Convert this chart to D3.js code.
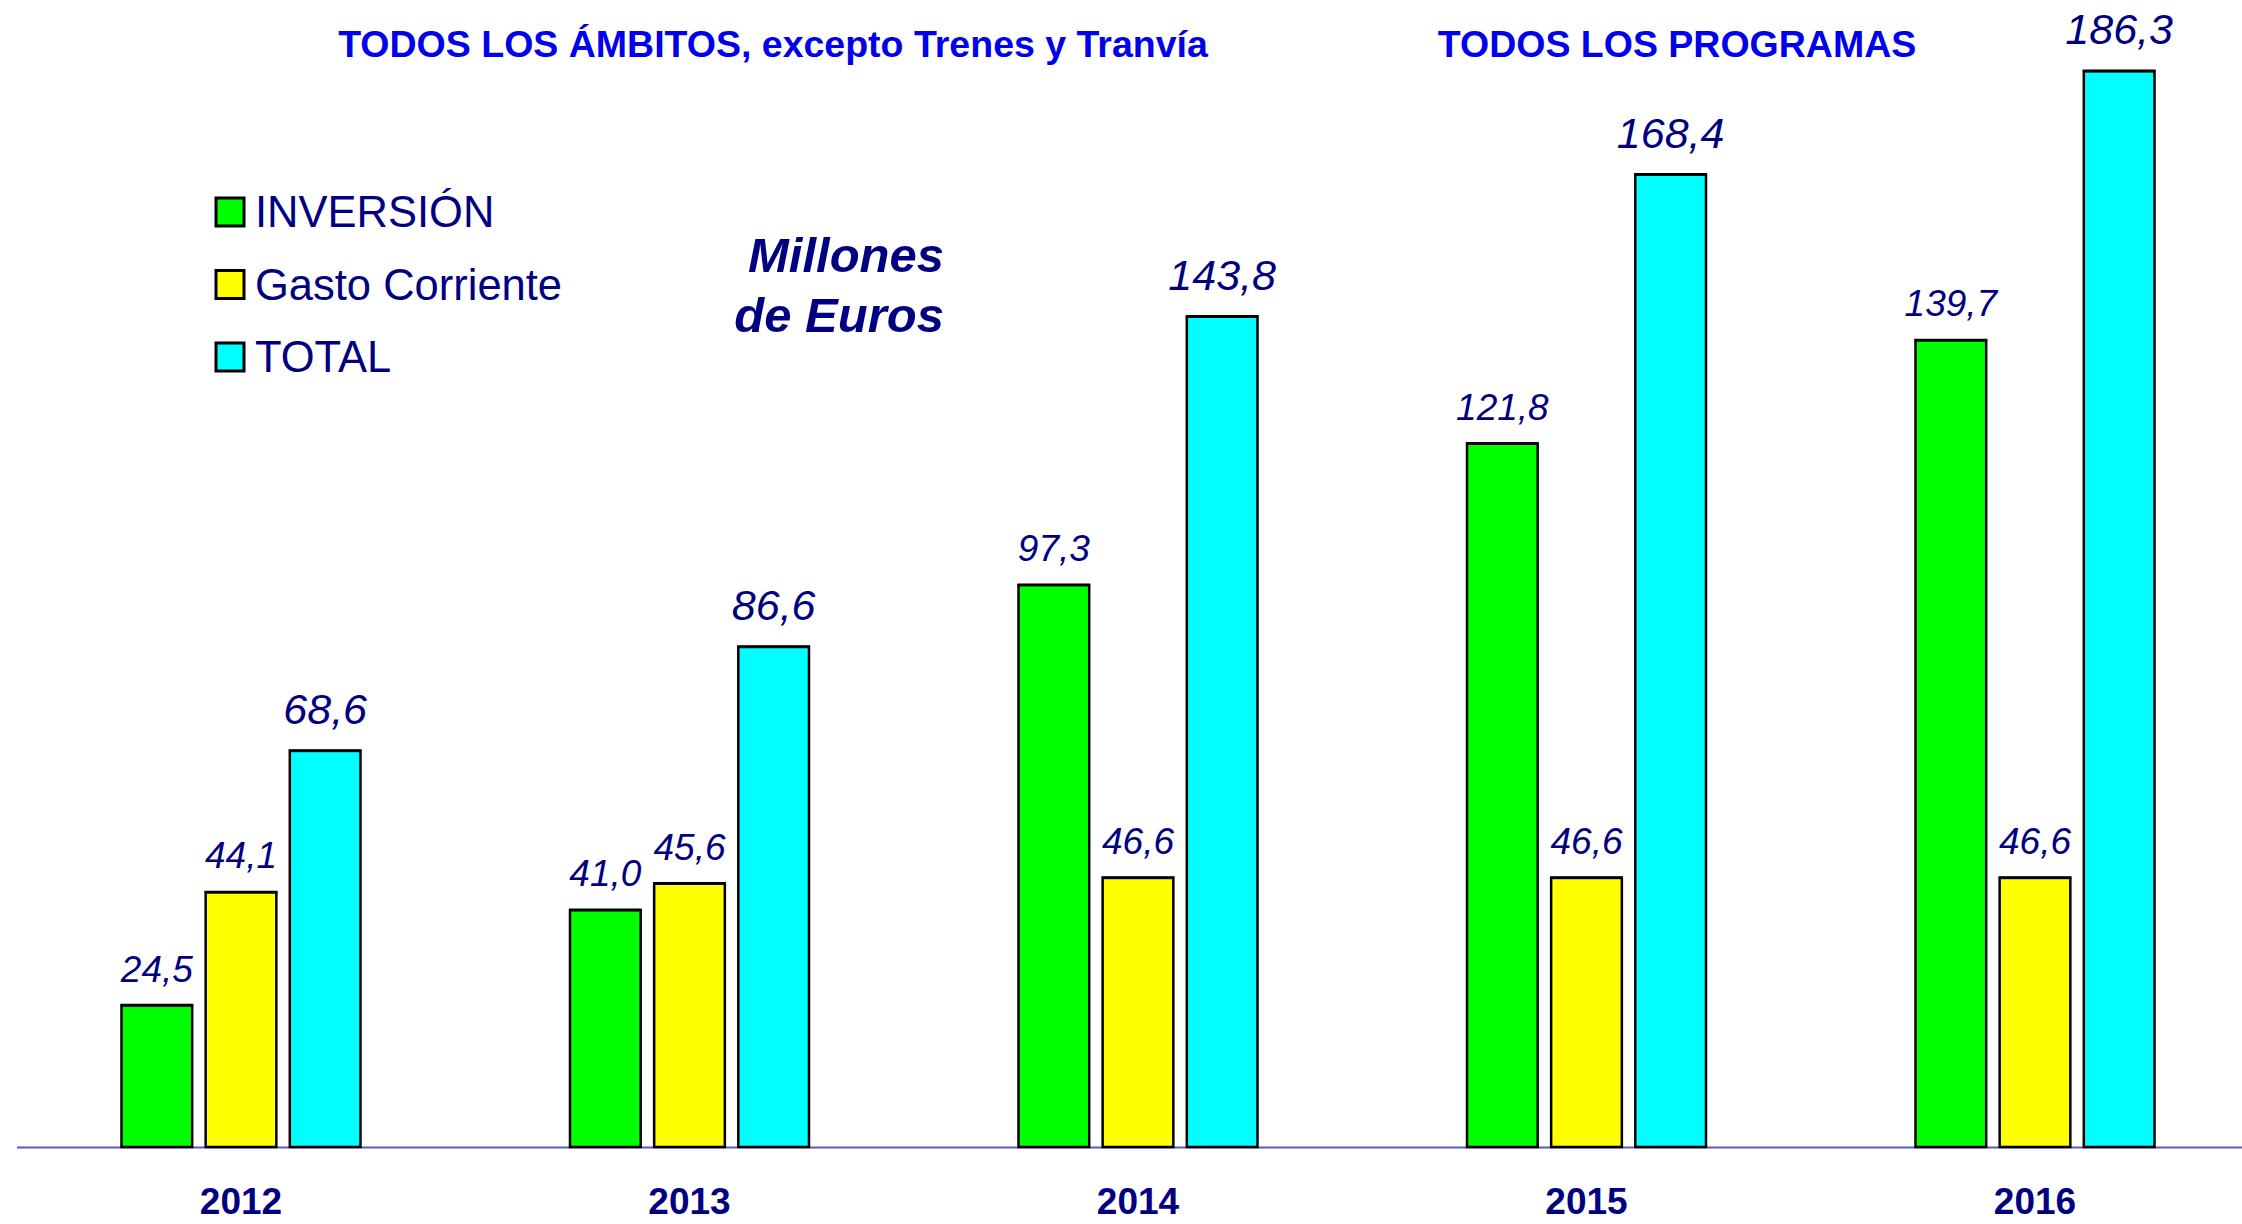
<!DOCTYPE html>
<html>
<head>
<meta charset="utf-8">
<script src="https://cdn.jsdelivr.net/npm/d3@7"></script>
<style>
  body { margin: 0; background: #fff; }
  text { font-family: "Liberation Sans", Arial, sans-serif; }
</style>
</head>
<body>
<svg id="chart"></svg>
<script>
const years = ["2012", "2013", "2014", "2015", "2016"];
const seriesNames = ["INVERSIÓN", "Gasto Corriente", "TOTAL"];
const inversion = [24.5, 41.0, 97.3, 121.8, 139.7];
const gasto = [44.1, 45.6, 46.6, 46.6, 46.6];
const total = [68.6, 86.6, 143.8, 168.4, 186.3];
const colors = ["#00ff00", "#ffff00", "#00ffff"];

const width = 2242, height = 1224,
      baseY = 1147;

const svg = d3.select("#chart")
    .attr("width", width)
    .attr("height", height);

const locale = d3.formatLocale({ decimal: ",", thousands: ".", grouping: [3], currency: ["", "€"] });
const fmt = locale.format(".1f");

const x0 = d3.scalePoint()
    .domain(years)
    .range([241, 2035]);

const x1 = d3.scaleBand()
    .domain(seriesNames)
    .range([-119.5, 119.5])
    .paddingInner(0.16);

const y = d3.scaleLinear()
    .domain([0, 190])
    .range([baseY, 50]);

const values = [inversion, gasto, total];
const rows = [];
years.forEach((yr, i) => {
  seriesNames.forEach((s, j) => {
    rows.push({ year: yr, series: s, idx: j, value: values[j][i] });
  });
});

// baseline
svg.append("line")
    .attr("x1", 17).attr("x2", width)
    .attr("y1", baseY + 0.5).attr("y2", baseY + 0.5)
    .attr("stroke", "#5c5cae")
    .attr("stroke-width", 2);

const groups = svg.selectAll(".bar")
    .data(rows)
    .enter().append("g")
      .attr("class", "bar")
      .attr("transform", d => "translate(" + (x0(d.year) + x1(d.series)) + ",0)");

groups.append("rect")
    .attr("x", 0)
    .attr("y", d => y(d.value))
    .attr("width", x1.bandwidth())
    .attr("height", d => baseY - y(d.value))
    .attr("fill", d => colors[d.idx])
    .attr("stroke", "#000")
    .attr("stroke-width", 2.5);

// thicker top edge like the original
groups.append("line")
    .attr("x1", -1).attr("x2", x1.bandwidth() + 1)
    .attr("y1", d => y(d.value) - 0.5)
    .attr("y2", d => y(d.value) - 0.5)
    .attr("stroke", "#000")
    .attr("stroke-width", 2.5);

groups.append("text")
    .attr("x", x1.bandwidth() / 2)
    .attr("y", d => y(d.value) - (d.idx === 2 ? 27 : 24))
    .attr("text-anchor", "middle")
    .attr("font-style", "italic")
    .attr("font-size", d => d.idx === 2 ? 43 : 37)
    .attr("fill", "#000080")
    .text(d => fmt(d.value));

// year labels
svg.selectAll(".year")
    .data(years)
    .enter().append("text")
      .attr("class", "year")
      .attr("x", d => x0(d))
      .attr("y", 1214)
      .attr("text-anchor", "middle")
      .attr("font-weight", "bold")
      .attr("font-size", 37)
      .attr("fill", "#000080")
      .text(d => d);

// titles
svg.append("text")
    .attr("x", 773).attr("y", 57)
    .attr("text-anchor", "middle")
    .attr("font-weight", "bold")
    .attr("font-size", 37.5)
    .attr("fill", "#0000ee")
    .text("TODOS LOS ÁMBITOS, excepto Trenes y Tranvía");

svg.append("text")
    .attr("x", 1677).attr("y", 57)
    .attr("text-anchor", "middle")
    .attr("font-weight", "bold")
    .attr("font-size", 37.5)
    .attr("fill", "#0000ee")
    .text("TODOS LOS PROGRAMAS");

// units
svg.append("text")
    .attr("x", 944).attr("y", 272)
    .attr("text-anchor", "end")
    .attr("font-weight", "bold")
    .attr("font-style", "italic")
    .attr("font-size", 49)
    .attr("fill", "#000080")
    .text("Millones");
svg.append("text")
    .attr("x", 944).attr("y", 332)
    .attr("text-anchor", "end")
    .attr("font-weight", "bold")
    .attr("font-style", "italic")
    .attr("font-size", 49)
    .attr("fill", "#000080")
    .text("de Euros");

// legend
const legend = svg.selectAll(".legend")
    .data(seriesNames)
    .enter().append("g")
      .attr("class", "legend")
      .attr("transform", (d, i) => "translate(216," + (198 + i * 72.5) + ")");

legend.append("rect")
    .attr("width", 28).attr("height", 28)
    .attr("fill", (d, i) => colors[i])
    .attr("stroke", "#000")
    .attr("stroke-width", 3);

legend.append("text")
    .attr("x", 39).attr("y", 29)
    .attr("font-size", 43.5)
    .attr("fill", "#000080")
    .text(d => d);
</script>
</body>
</html>
